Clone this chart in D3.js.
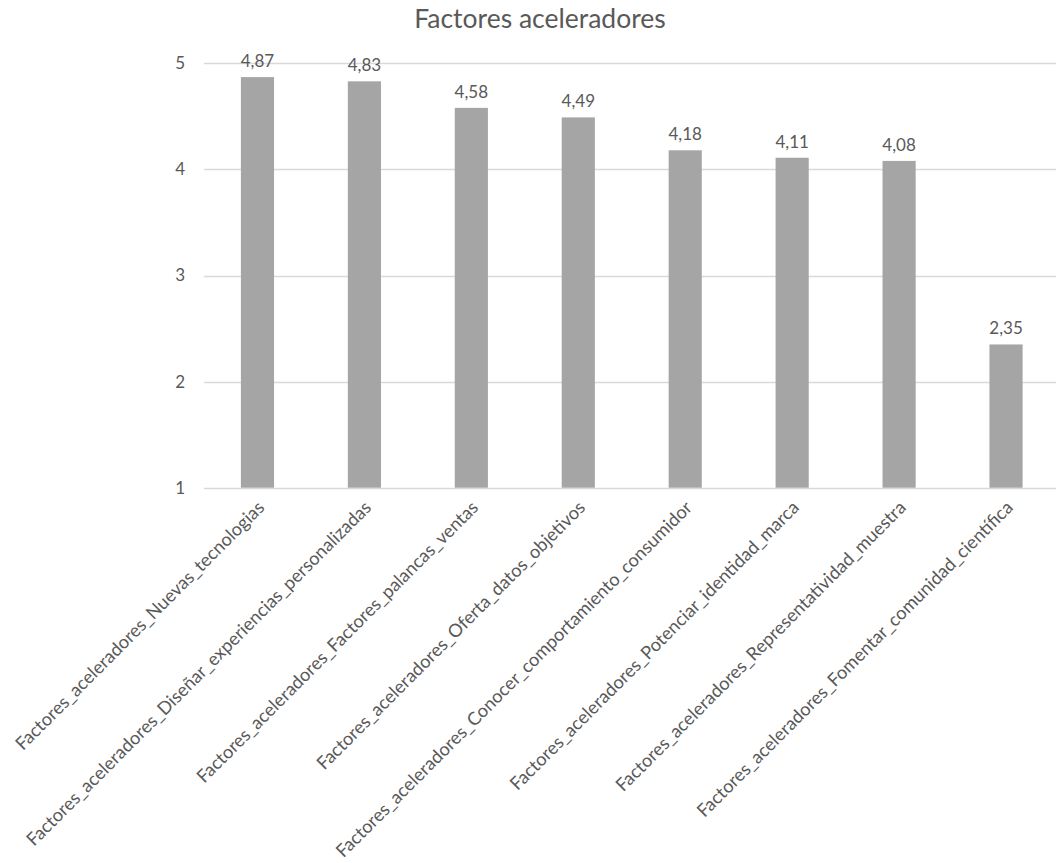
<!DOCTYPE html>
<html>
<head>
<meta charset="utf-8">
<script src="https://cdn.jsdelivr.net/npm/d3@7"></script>
<style>
  body { margin: 0; background: #fff; }
  svg text { font-family: Lato, "Open Sans", sans-serif; fill: #595959; }
</style>
</head>
<body>
<svg id="chart" width="1056" height="863"></svg>
<script>
// Mean scores per accelerating factor
const categories = [
  "Factores_aceleradores_Nuevas_tecnologias",
  "Factores_aceleradores_Diseñar_experiencias_personalizadas",
  "Factores_aceleradores_Factores_palancas_ventas",
  "Factores_aceleradores_Oferta_datos_objetivos",
  "Factores_aceleradores_Conocer_comportamiento_consumidor",
  "Factores_aceleradores_Potenciar_identidad_marca",
  "Factores_aceleradores_Representatividad_muestra",
  "Factores_aceleradores_Fomentar_comunidad_científica"
];
const values = [4.87, 4.83, 4.58, 4.49, 4.18, 4.11, 4.08, 2.35];
const yTicks = [1, 2, 3, 4, 5];
const title = "Factores aceleradores";

const svg = d3.select("#chart");
const W = 1056, H = 863;
const plotLeft = 204, plotRight = 1059.5, plotTop = 63.3, plotBottom = 487.7;

const x = d3.scaleBand()
  .domain(categories)
  .range([plotLeft, plotRight])
  .paddingInner(0.69)
  .paddingOuter(0.345);

const y = d3.scaleLinear()
  .domain([1, 5])
  .range([plotBottom, plotTop]);

// Title
svg.append("text")
  .attr("x", 540).attr("y", 28)
  .attr("text-anchor", "middle")
  .style("font-size", "26.5px")
  .text(title);

// Gridlines
svg.append("g")
  .selectAll("line")
  .data(yTicks)
  .join("line")
  .attr("x1", plotLeft).attr("x2", W)
  .attr("y1", d => Math.round(y(d)) + 0.5).attr("y2", d => Math.round(y(d)) + 0.5)
  .attr("stroke", "#d9d9d9")
  .attr("stroke-width", 1.5);

// Y axis labels
const yAxis = d3.axisLeft(y).tickValues(yTicks).tickSize(0).tickPadding(19)
  .tickFormat(d3.format("d"));
svg.append("g")
  .attr("transform", `translate(${plotLeft},0)`)
  .call(yAxis)
  .call(g => g.select(".domain").remove())
  .call(g => g.selectAll("text")
    .style("font-size", "17px")
    .style("font-family", "Lato, sans-serif")
    .attr("fill", "#595959"));

// Bars
svg.append("g")
  .selectAll("rect")
  .data(values)
  .join("rect")
  .attr("x", (d, i) => x(categories[i]))
  .attr("width", x.bandwidth())
  .attr("y", d => y(d))
  .attr("height", d => y(1) - y(d))
  .attr("fill", "#a5a5a5");

// Value labels
const fmt = d => d3.format(".2f")(d).replace(".", ",");
svg.append("g")
  .selectAll("text")
  .data(values)
  .join("text")
  .attr("x", (d, i) => x(categories[i]) + x.bandwidth() / 2)
  .attr("y", d => y(d) - 10)
  .attr("text-anchor", "middle")
  .style("font-size", "17px")
  .text(fmt);

// Category labels, rotated
svg.append("g")
  .selectAll("text")
  .data(categories)
  .join("text")
  .attr("transform", d => `translate(${x(d) + x.bandwidth() / 2 + 8},${y(1) + 21}) rotate(-45)`)
  .attr("text-anchor", "end")
  .style("font-size", "18.2px")
  .text(d => d);
</script>
</body>
</html>
